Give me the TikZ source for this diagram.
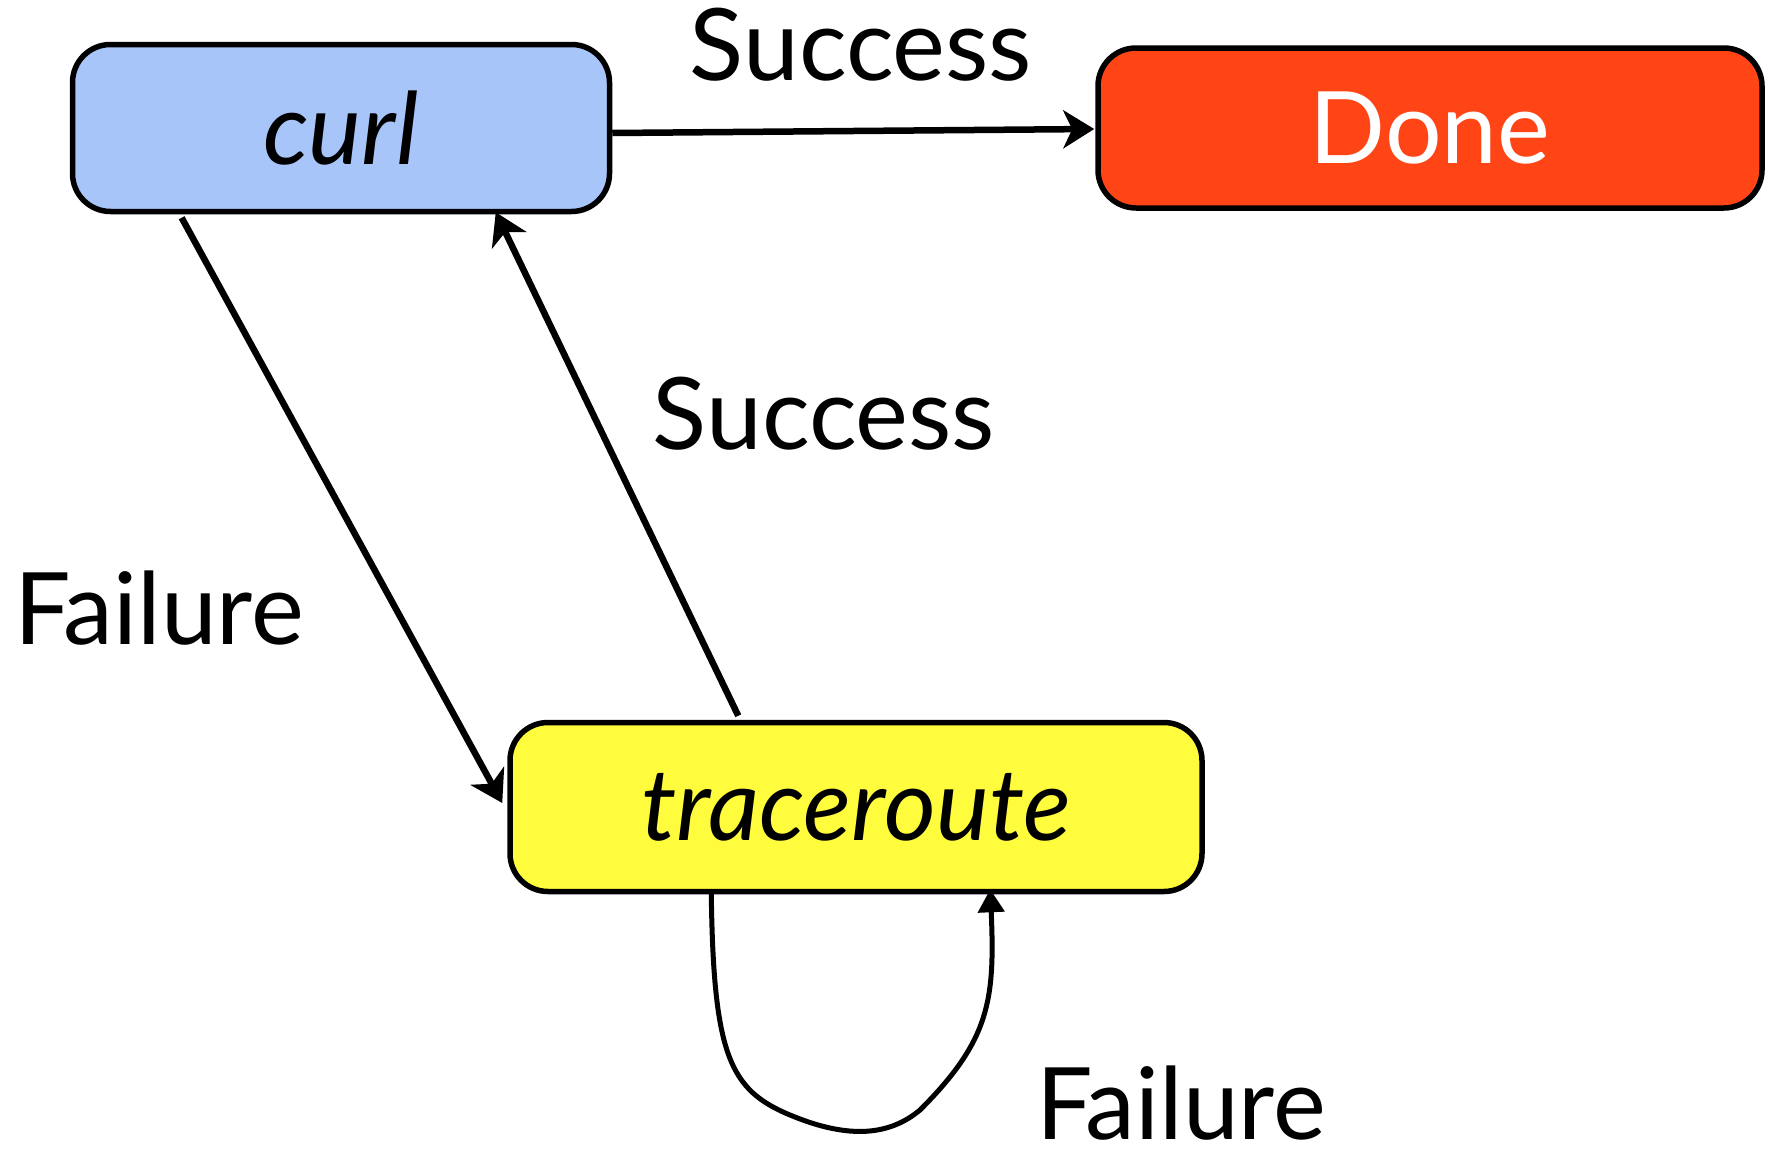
\documentclass[tikz,border=0pt]{standalone}
\usepackage{fontspec}
\setmainfont{Lato}
\usetikzlibrary{arrows.meta,calc}
\definecolor{curlblue}{HTML}{A8C5FA}
\definecolor{donered}{HTML}{FF4415}
\definecolor{traceyellow}{HTML}{FFFB3D}
\begin{document}
\begin{tikzpicture}[x=1pt,y=-1pt,
  statebox/.style={draw=black,line width=5.5pt,rounded corners=38pt,inner sep=0pt,
    font=\fontsize{100}{110}\selectfont},
  lbl/.style={font=\fontsize{100}{110}\selectfont,inner sep=0pt},
  conn/.style={line width=6.5pt,-{Stealth[length=31pt,width=38pt,inset=9pt]}},
  loopconn/.style={line width=5pt,-{Triangle[length=23pt,width=26pt]}}]
\useasboundingbox (0,0) rectangle (1765,1162);
\node[statebox,fill=curlblue,minimum width=537pt,minimum height=167pt] (curl) at (341,128) {\itshape curl};
\node[statebox,fill=donered,minimum width=664pt,minimum height=160pt,text=white] (done) at (1430,128) {Done};
\node[statebox,fill=traceyellow,minimum width=692pt,minimum height=169pt] (trace) at (856,807) {\itshape traceroute};
\node[lbl] (succ1) at (861,45) {Success};
\node[lbl] (succ2) at (824,414) {Success};
\node[lbl] (fail1) at (159,608) {Failure};
\node[lbl,anchor=base] (fail2) at (1181,1139) {Failure};
\draw[conn] ([yshift=-5pt]curl.east) -- ([xshift=-1pt,yshift=-1pt]done.west);
\draw[conn,shorten <=4pt] ([xshift=110pt]curl.south west) -- ([xshift=-5pt,yshift=4pt]trace.west);
\draw[conn] ([xshift=231pt,yshift=4pt]trace.north west) -- ([xshift=426pt,yshift=2pt]curl.south west);
\draw[loopconn] ([xshift=204pt,yshift=3pt]trace.south west)
  .. controls +(2,165) and (730,1090) .. (790,1115)
  .. controls (850,1140) and (890,1135) .. (920,1110)
  .. controls (990,1040) and (995,1000) .. ([xshift=483pt,yshift=5pt]trace.south west);
\end{tikzpicture}
\end{document}
